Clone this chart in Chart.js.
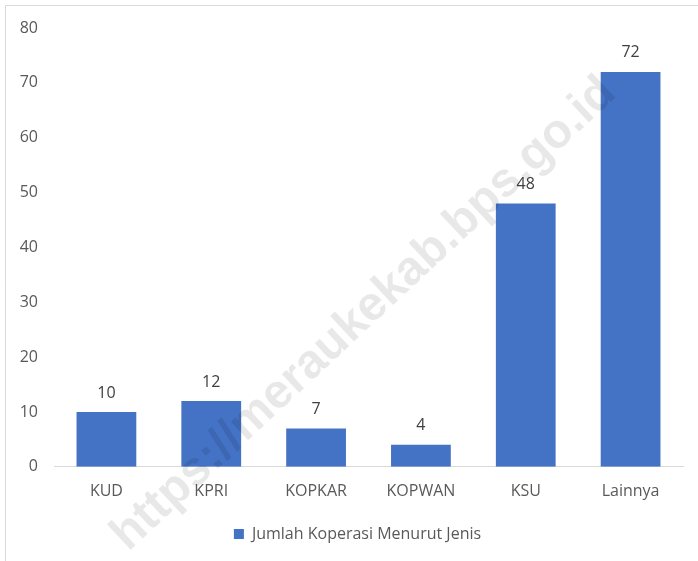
<!DOCTYPE html>
<html>
<head>
<meta charset="utf-8">
<script src="https://cdn.jsdelivr.net/npm/chart.js@4/dist/chart.umd.min.js"></script>
<style>
  html, body { margin: 0; padding: 0; background: #fff; }
  #wrap { width: 698px; height: 561px; position: relative; }
</style>
</head>
<body>
<div id="wrap"><canvas id="c" width="698" height="561"></canvas></div>
<script>
const categories = ["KUD", "KPRI", "KOPKAR", "KOPWAN", "KSU", "Lainnya"];
const values = [10, 12, 7, 4, 48, 72];
const seriesName = "Jumlah Koperasi Menurut Jenis";
const yTicks = [0, 10, 20, 30, 40, 50, 60, 70, 80];
const watermarkText = "https://meraukekab.bps.go.id";

const FONT = "'Open Sans', 'Noto Sans', sans-serif";

const framePlugin = {
  id: 'frame',
  beforeDraw(chart) {
    const ctx = chart.ctx;
    ctx.save();
    ctx.strokeStyle = '#d9d9d9';
    ctx.lineWidth = 1;
    ctx.beginPath();
    ctx.moveTo(5.5, 561);
    ctx.lineTo(5.5, 5.5);
    ctx.lineTo(698, 5.5);
    ctx.stroke();
    ctx.restore();
  }
};

const legendShiftPlugin = {
  id: 'legendShift',
  afterLayout(chart) {
    const lg = chart.legend;
    if (lg) { lg.left += 16; lg.right += 16; }
  }
};

const labelPlugin = {
  id: 'dataLabels',
  afterDatasetsDraw(chart) {
    const ctx = chart.ctx;
    const meta = chart.getDatasetMeta(0);
    ctx.save();
    ctx.fillStyle = '#404040';
    ctx.font = "16px " + FONT;
    ctx.textAlign = 'center';
    ctx.textBaseline = 'middle';
    meta.data.forEach((bar, i) => {
      ctx.fillText(String(values[i]), bar.x, bar.y - 19);
    });
    ctx.restore();
  }
};

const watermarkPlugin = {
  id: 'watermark',
  afterDraw(chart) {
    const ctx = chart.ctx;
    ctx.save();
    ctx.translate(364, 314);
    ctx.rotate(-43 * Math.PI / 180);
    let size = 44;
    ctx.font = "bold " + size + "px 'Liberation Sans', Arial, sans-serif";
    const w = ctx.measureText(watermarkText).width;
    size = size * 670 / w;
    ctx.font = "bold " + size.toFixed(1) + "px 'Liberation Sans', Arial, sans-serif";
    ctx.fillStyle = 'rgba(0,0,0,0.09)';
    ctx.textAlign = 'center';
    ctx.textBaseline = 'middle';
    ctx.fillText(watermarkText, 0, 0);
    ctx.restore();
  }
};

new Chart(document.getElementById('c'), {
  type: 'bar',
  data: {
    labels: categories,
    datasets: [{
      label: seriesName,
      data: values,
      backgroundColor: '#4472C4',
      borderColor: '#4472C4',
      borderWidth: 0,
      barPercentage: 0.57,
      categoryPercentage: 1.0
    }]
  },
  options: {
    responsive: false,
    animation: false,
    devicePixelRatio: 1,
    layout: { padding: { top: 28, right: 15, left: 0, bottom: 9 } },
    plugins: {
      legend: {
        display: true,
        position: 'bottom',
        labels: {
          boxWidth: 10,
          boxHeight: 10,
          color: '#595959',
          font: { family: FONT, size: 16 },
          padding: 10
        }
      },
      tooltip: { enabled: false }
    },
    scales: {
      x: {
        grid: { display: false, drawTicks: false },
        border: { display: true, color: '#d9d9d9', width: 1 },
        ticks: { color: '#595959', font: { family: FONT, size: 16 }, padding: 15, maxRotation: 0 }
      },
      y: {
        min: 0,
        max: 80,
        afterFit(scale) { scale.width = 54; },
        afterBuildTicks(scale) { scale.ticks = yTicks.map(v => ({ value: v })); },
        grid: { display: false, drawTicks: false },
        border: { display: false },
        ticks: { color: '#595959', font: { family: FONT, size: 16 }, padding: 16 }
      }
    }
  },
  plugins: [framePlugin, legendShiftPlugin, labelPlugin, watermarkPlugin]
});
</script>
</body>
</html>
